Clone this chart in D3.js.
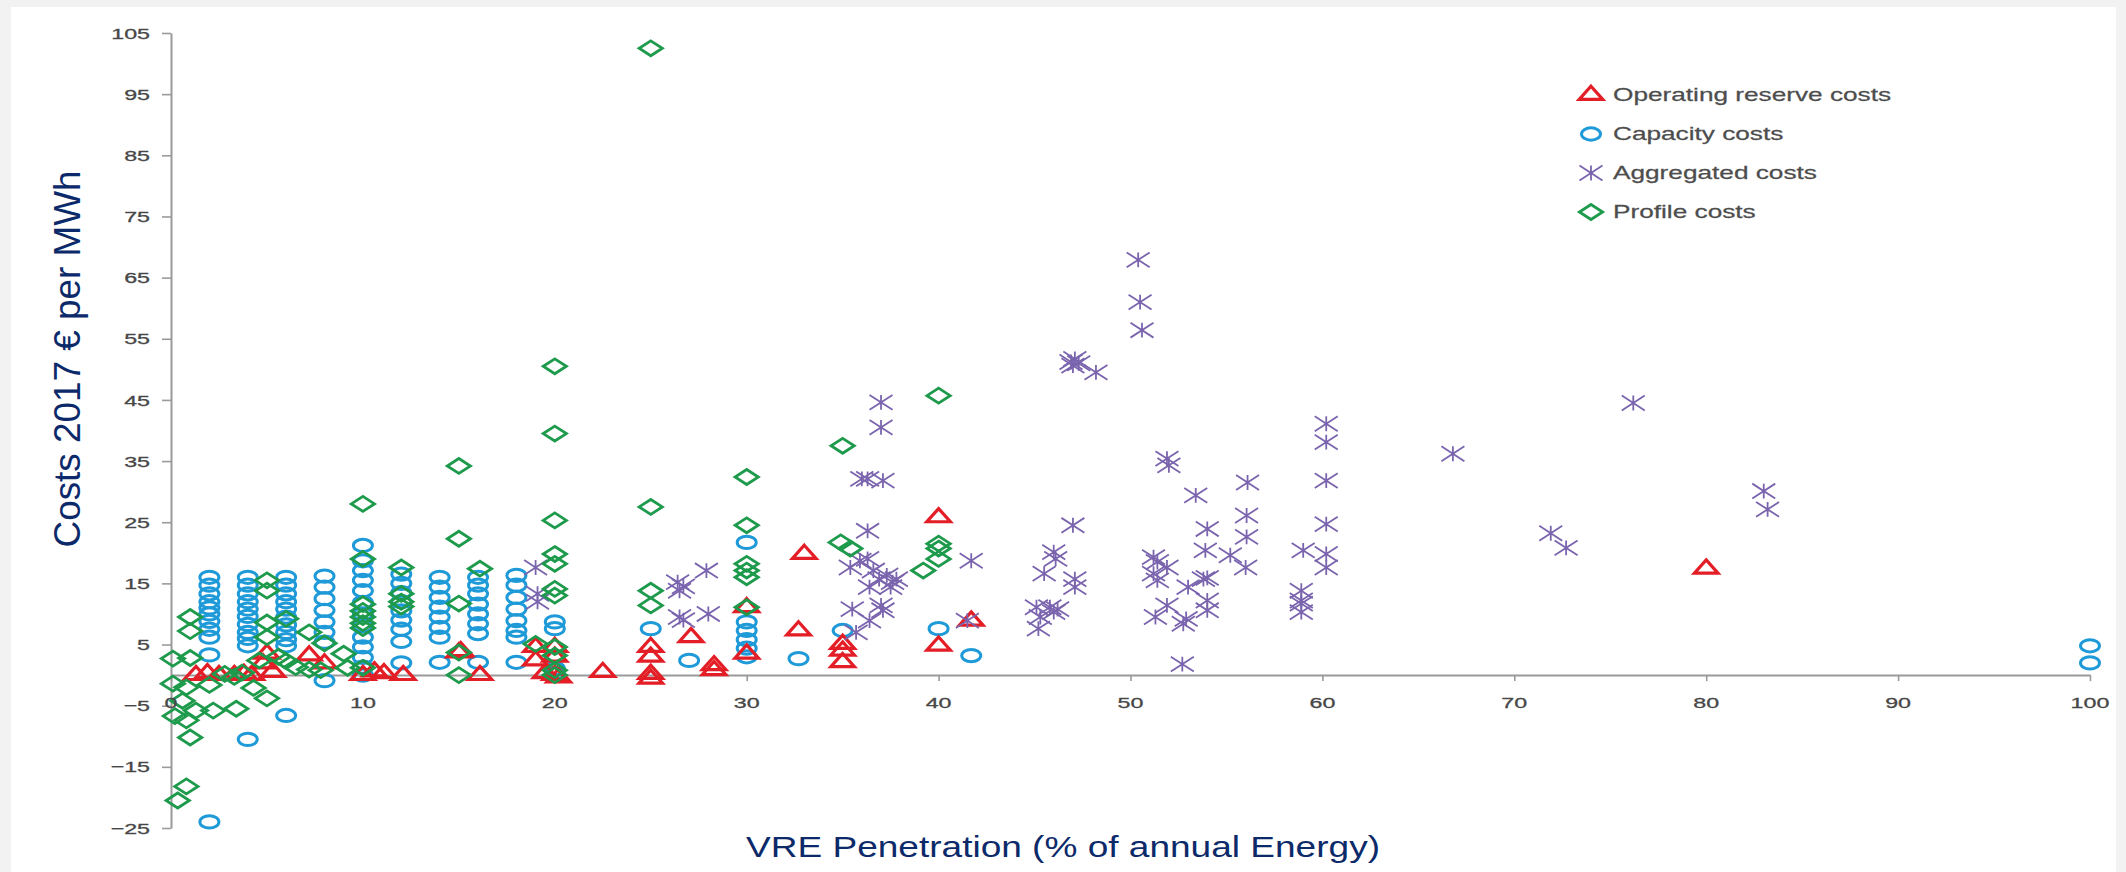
<!DOCTYPE html>
<html>
<head>
<meta charset="utf-8">
<script src="https://cdn.jsdelivr.net/npm/d3@7"></script>
<style>
  html, body { margin: 0; padding: 0; background: #f2f2f2; }
  svg { display: block; }
</style>
</head>
<body>
<svg id="chart" width="2126" height="872"></svg>
<script>
// ---- data: [VRE penetration %, cost in 2017 EUR/MWh] ----
const xTicks = [0, 10, 20, 30, 40, 50, 60, 70, 80, 90, 100];
const yTicks = [-25, -15, -5, 5, 15, 25, 35, 45, 55, 65, 75, 85, 95, 105];

const seriesNames = ["Operating reserve costs", "Capacity costs", "Aggregated costs", "Profile costs"];

const operatingReserve = [
  [1.3, 0], [1.9, 0.3], [2.5, 0], [3.3, 0], [3.8, 0.2], [4.2, 0], [4.8, 1.9], [5.0, 3.5], [5.3, 0.5],
  [7.2, 3.2], [8.0, 1.9], [10.0, 0], [10.6, 0.6], [11.1, 0.3], [12.1, 0], [15.0, 3.7], [15.1, 3.9],
  [16.1, 0], [19.0, 4.6], [19.0, 2.4], [19.5, 0.3], [20.0, 4.6], [20.0, 3.0], [20.0, 0], [20.2, -0.4],
  [22.5, 0.5], [25.0, 4.6], [25.0, 3.0], [25.0, 0.2], [25.0, -0.6], [27.1, 6.2], [28.3, 1.6], [28.3, 0.8],
  [30.0, 11.1], [30.0, 3.5], [32.7, 7.3], [33.0, 19.8], [35.0, 5.1], [35.0, 4.0], [35.0, 2.1],
  [40.0, 25.8], [40.0, 4.8], [41.7, 8.9], [80.0, 17.4]
];

const capacity = [
  [2, 16.0], [2, 14.7], [2, 13.3], [2, 12.0], [2, 11.0], [2, 10.0], [2, 8.8], [2, 7.5], [2, 6.2], [2, 3.3], [2, -24.0],
  [4, 16.0], [4, 14.7], [4, 13.3], [4, 12.0], [4, 10.8], [4, 9.6], [4, 8.3], [4, 7.0], [4, 6.0], [4, 4.8], [4, -10.5],
  [6, 16.0], [6, 14.7], [6, 13.3], [6, 12.0], [6, 10.8], [6, 9.5], [6, 8.2], [6, 7.0], [6, 5.8], [6, 4.8], [6, -6.6],
  [8, 16.2], [8, 14.4], [8, 12.5], [8, 10.6], [8, 8.7], [8, 7.0], [8, 5.4], [8, -0.9],
  [10, 21.2], [10, 18.7], [10, 17.1], [10, 15.5], [10, 13.8], [10, 11.9], [10, 10.0], [10, 8.1], [10, 6.2],
  [10, 4.6], [10, 2.9], [10, 1.3], [10, 0],
  [12, 16.5], [12, 15.0], [12, 13.5], [12, 12.0], [12, 10.5], [12, 9.0], [12, 7.5], [12, 5.5], [12, 2.0],
  [14, 16.0], [14, 14.4], [14, 12.7], [14, 11.1], [14, 9.5], [14, 7.8], [14, 6.2], [14, 2.1],
  [16, 16.0], [16, 14.7], [16, 13.3], [16, 11.6], [16, 10.0], [16, 8.4], [16, 6.8], [16, 2.1],
  [18, 16.3], [18, 14.7], [18, 12.7], [18, 10.8], [18, 8.9], [18, 7.3], [18, 6.2], [18, 2.1],
  [20, 8.7], [20, 7.6], [20, 1.1], [20, 0.3],
  [25, 7.6], [27, 2.4],
  [30, 21.7], [30, 8.7], [30, 7.3], [30, 5.8], [30, 4.4], [30, 3.0],
  [32.7, 2.7], [35, 7.3], [40, 7.6], [41.7, 3.2],
  [100, 4.8], [100, 2.0]
];

const aggregated = [
  [19.0, 17.6], [19.1, 13.3], [19.1, 12.0],
  [26.4, 15.2], [26.7, 14.5], [26.5, 13.8], [26.5, 9.5], [26.7, 9.0], [27.9, 17.1], [28.0, 10.0],
  [37.0, 44.6], [37.0, 40.5], [36.0, 32.1], [36.3, 32.1], [37.1, 31.8], [36.3, 23.6], [36.3, 19.0],
  [35.4, 17.6], [35.9, 18.7], [36.6, 17.1], [36.9, 15.7], [37.3, 16.3], [37.6, 15.2], [36.4, 14.4],
  [37.5, 14.4], [37.8, 15.7], [37.0, 11.4], [37.1, 10.6], [35.5, 10.8], [36.4, 8.9], [35.7, 7.0],
  [41.7, 18.7], [41.5, 8.9],
  [50.4, 67.9], [50.5, 61.0], [50.6, 56.4], [47.1, 51.7], [47.0, 50.6], [46.9, 51.2], [47.3, 51.0], [48.2, 49.5],
  [51.9, 35.4], [52.0, 34.3], [53.4, 29.4], [56.1, 31.5], [56.05, 26.1], [56.05, 22.6], [56.0, 17.6],
  [55.2, 19.6], [54.0, 23.9], [53.9, 20.4], [53.8, 15.7], [54.0, 15.9], [54.0, 12.2], [54.0, 10.6],
  [53.0, 14.4], [52.9, 9.2], [52.75, 8.4], [52.7, 1.8], [51.9, 11.4], [51.3, 9.5], [51.2, 19.3],
  [51.4, 18.5], [51.9, 17.6], [51.2, 16.6], [51.4, 15.5],
  [47.0, 24.5], [46.0, 20.1], [46.1, 19.0], [45.5, 16.6], [47.1, 15.7], [47.1, 14.4],
  [45.1, 11.1], [45.8, 11.1], [46.2, 10.8], [45.3, 9.5], [46.0, 10.3], [45.2, 7.6],
  [59.0, 20.4], [58.9, 13.8], [58.9, 12.2], [58.9, 11.7], [58.9, 10.3],
  [60.2, 41.1], [60.2, 38.1], [60.2, 31.8], [60.2, 24.7], [60.2, 19.8], [60.2, 17.6],
  [66.8, 36.2], [71.9, 23.2], [72.7, 20.8], [76.2, 44.5], [83.0, 30.1], [83.2, 27.1]
];

const profile = [
  [0.1, 2.7], [0.1, -1.4], [0.2, -6.7], [0.8, -2.0], [0.6, -4.2], [0.8, -7.4], [0.35, -20.5],
  [1.0, 9.5], [1.0, 7.2], [1.0, 2.8], [1.0, -10.2], [0.8, -18.2], [1.3, -5.8],
  [2.0, -1.6], [2.2, -5.8], [2.8, 0.2], [3.3, -0.3], [3.7, 0.4], [3.4, -5.5],
  [4.3, -2.1], [4.6, 2.4], [5.0, 15.5], [5.0, 13.8], [5.0, 8.6], [5.0, 6.2], [5.0, -3.8],
  [5.6, 3.0], [6.0, 9.2], [6.0, 2.3], [6.5, 1.3], [7.2, 7.0], [7.2, 0.9], [8.0, 5.2], [7.8, 0.8],
  [9.0, 3.5], [9.2, 1.2],
  [10.0, 28.0], [10.0, 19.0], [10.0, 11.6], [10.0, 10.5], [10.0, 9.5], [10.0, 8.5], [10.0, 7.7], [10.0, 1.2],
  [12.0, 17.6], [12.0, 13.3], [12.0, 12.0], [12.0, 11.2],
  [15.0, 34.2], [15.0, 22.3], [15.0, 11.7], [15.0, 3.7], [15.0, 0], [16.1, 17.4],
  [19.0, 5.1],
  [20.0, 50.5], [20.0, 39.5], [20.0, 25.3], [20.0, 19.8], [20.0, 18.2], [20.0, 14.1], [20.0, 13.0],
  [20.0, 4.6], [20.0, 3.2], [20.0, 0.8], [20.0, 0],
  [25.0, 102.5], [25.0, 27.5], [25.0, 13.8], [25.0, 11.4],
  [30.0, 32.4], [30.0, 24.5], [30.0, 18.2], [30.0, 17.1], [30.0, 16.0], [30.0, 11.1],
  [35.0, 37.5], [34.9, 21.7], [35.4, 20.7], [39.2, 17.1],
  [40.0, 45.7], [40.0, 21.5], [40.0, 20.7], [40.0, 19.0]
];

// ---- layout ----
const svg = d3.select("#chart");
const W = 2126, H = 872;
const stretch = 1.55;       // horizontal aspect of the markers
const textStretch = 1.5;    // horizontal aspect of tick text

const x = d3.scaleLinear().domain([0, 100]).range([171, 2090]);
const y = d3.scaleLinear().domain([-25, 105]).range([828, 33]);

// page frame
svg.append("rect").attr("x", 0).attr("y", 0).attr("width", W).attr("height", H).attr("fill", "#f2f2f2");
svg.append("rect").attr("x", 11).attr("y", 7).attr("width", 2105).attr("height", H - 7).attr("fill", "#ffffff");

// ---- marker shapes ----
const asterisk = {
  draw(ctx, size) {
    const r = Math.sqrt(size) / 2;
    ctx.moveTo(0, -r); ctx.lineTo(0, r);
    ctx.moveTo(-r, -r); ctx.lineTo(r, r);
    ctx.moveTo(-r, r); ctx.lineTo(r, -r);
  }
};

const styles = {
  op:   { path: d3.symbol(d3.symbolTriangle, 100)(), color: "#e41e26", width: 3.2, rot: 0 },
  cap:  { path: d3.symbol(d3.symbolCircle, 118)(), color: "#1f9ad8", width: 3, rot: 0 },
  agg:  { path: d3.symbol(asterisk, 220)(), color: "#7a64ae", width: 1.8, rot: 0 },
  prof: { path: d3.symbol(d3.symbolSquare, 112)(), color: "#1e9a4c", width: 2.8, rot: 45 }
};

function drawSeries(data, st, cls) {
  svg.append("g").attr("class", cls)
    .selectAll("path")
    .data(data)
    .join("path")
    .attr("d", st.path)
    .attr("transform", d => `translate(${x(d[0])},${y(d[1])}) scale(${stretch},1) rotate(${st.rot})`)
    .attr("fill", "none")
    .attr("stroke", st.color)
    .attr("stroke-width", st.width)
    .attr("stroke-linejoin", "miter")
    .attr("vector-effect", "non-scaling-stroke");
}

// ---- axes ----
const axisColor = "#9a9a9a";
const gy = svg.append("g").attr("transform", `translate(${x(0)},0)`)
  .call(d3.axisLeft(y).tickValues(yTicks).tickSize(9).tickSizeOuter(0).tickFormat(""));
const gx = svg.append("g").attr("transform", `translate(0,${y(0)})`)
  .call(d3.axisBottom(x).tickValues(xTicks).tickSize(6).tickSizeOuter(0).tickFormat(""));
[gy, gx].forEach(g => {
  g.select(".domain").attr("stroke", axisColor).attr("stroke-width", 2);
  g.selectAll(".tick line").attr("stroke", axisColor).attr("stroke-width", 1.6);
});

const fmt = v => (v < 0 ? "\u2212" + Math.abs(v) : String(v));
const tickFont = "'Liberation Sans', Arial, Helvetica, sans-serif";

svg.append("g").selectAll("g")
  .data(yTicks)
  .join("g")
  .attr("transform", d => `translate(150,${y(d)}) scale(${textStretch},1)`)
  .append("text")
  .attr("text-anchor", "end")
  .attr("dy", "0.36em")
  .attr("font-family", tickFont)
  .attr("font-size", 15.5)
  .attr("fill", "#474747")
  .attr("stroke", "#474747")
  .attr("stroke-width", 0.3)
  .text(fmt);

// data marks (circles first, asterisks and diamonds on top)
drawSeries(capacity, styles.cap, "capacity");
drawSeries(operatingReserve, styles.op, "operating");
drawSeries(aggregated, styles.agg, "aggregated");
drawSeries(profile, styles.prof, "profile");

svg.append("g").selectAll("g")
  .data(xTicks)
  .join("g")
  .attr("transform", d => `translate(${x(d)},708) scale(${textStretch},1)`)
  .append("text")
  .attr("text-anchor", "middle")
  .attr("font-family", tickFont)
  .attr("font-size", 15.5)
  .attr("fill", "#474747")
  .attr("stroke", "#474747")
  .attr("stroke-width", 0.3)
  .text(fmt);

// ---- legend ----
const legendKeys = [styles.op, styles.cap, styles.agg, styles.prof];
const legend = svg.append("g");
const legendY = d3.scalePoint().domain(seriesNames).range([95, 212]);
seriesNames.forEach((name, i) => {
  const st = legendKeys[i];
  const ly = legendY(name);
  legend.append("path")
    .attr("d", st.path)
    .attr("transform", `translate(1591,${ly}) scale(${stretch},1) rotate(${st.rot})`)
    .attr("fill", "none")
    .attr("stroke", st.color)
    .attr("stroke-width", st.width)
    .attr("vector-effect", "non-scaling-stroke");
  legend.append("g")
    .attr("transform", `translate(1613,${ly + 6}) scale(1.38,1)`)
    .append("text")
    .attr("font-family", tickFont)
    .attr("font-size", 19)
    .attr("fill", "#4d4d4d")
    .attr("stroke", "#4d4d4d")
    .attr("stroke-width", 0.25)
    .text(name);
});

// ---- axis titles ----
const titleColor = "#0c2a6a";
svg.append("text")
  .attr("x", 1063)
  .attr("y", 857)
  .attr("text-anchor", "middle")
  .attr("font-family", "Arial, 'Liberation Sans', sans-serif")
  .attr("font-size", 30)
  .attr("fill", titleColor)
  .attr("textLength", 634)
  .attr("lengthAdjust", "spacingAndGlyphs")
  .text("VRE Penetration (% of annual Energy)");

svg.append("g")
  .attr("transform", "translate(80,359) scale(1.25,1) rotate(-90)")
  .append("text")
  .attr("text-anchor", "middle")
  .attr("font-family", "Arial, 'Liberation Sans', sans-serif")
  .attr("font-size", 30)
  .attr("fill", titleColor)
  .attr("textLength", 377)
  .attr("lengthAdjust", "spacingAndGlyphs")
  .text("Costs 2017 \u20AC per MWh");
</script>
</body>
</html>
